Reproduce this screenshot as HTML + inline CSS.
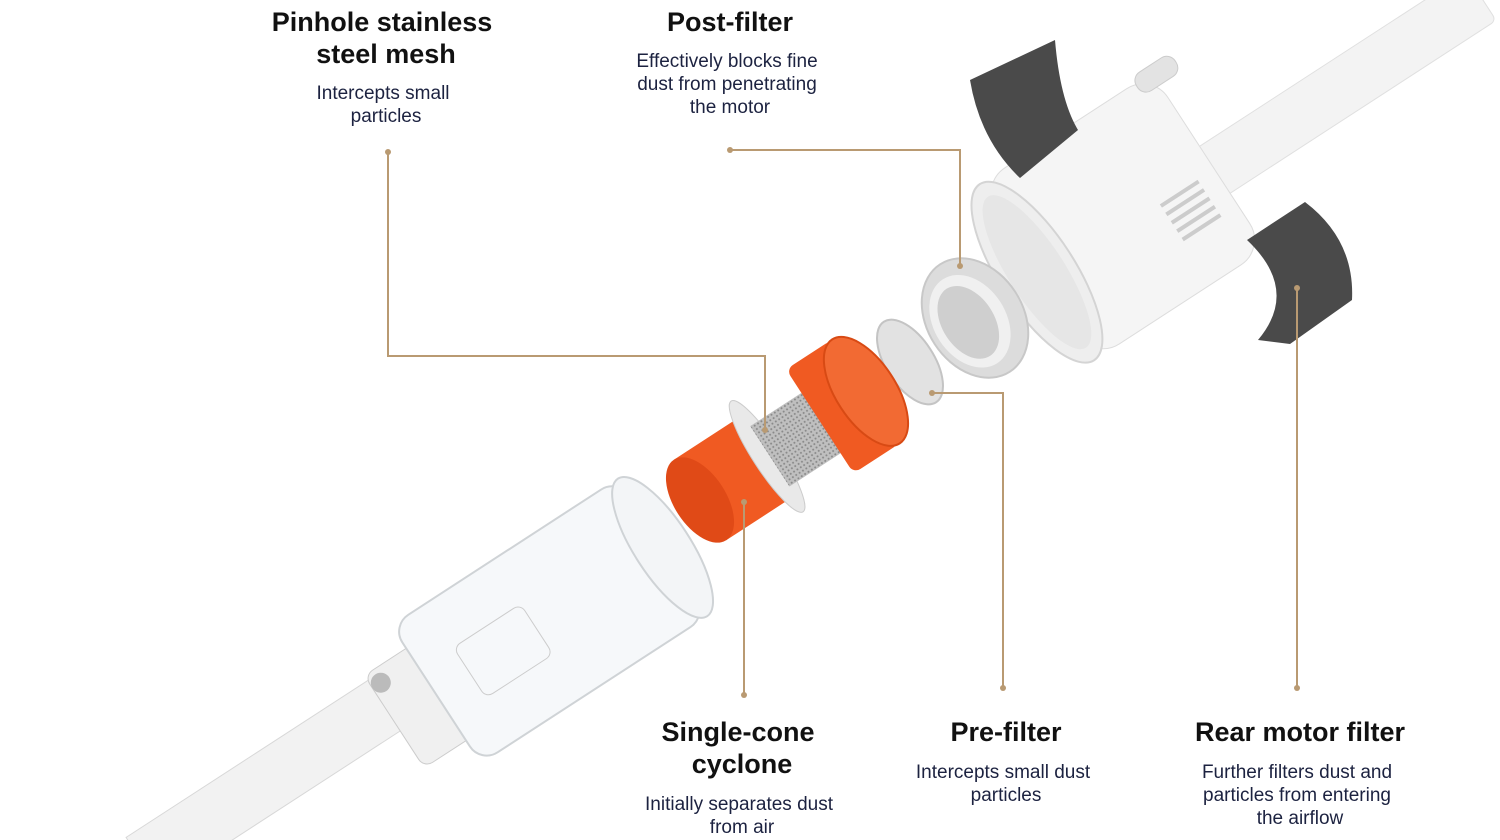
<!DOCTYPE html>
<html><head><meta charset="utf-8"><style>
html,body{margin:0;padding:0;background:#fff;width:1500px;height:840px;overflow:hidden;}
svg{display:block;position:absolute;left:0;top:0}
.t{font-family:"Liberation Sans",sans-serif;font-weight:bold;font-size:27px;fill:#111;text-anchor:middle}
.b{font-family:"Liberation Sans",sans-serif;font-size:19px;fill:#1c2240;text-anchor:middle}
.l{fill:none;stroke:#b99a72;stroke-width:2}
.d{fill:#b99a72}
</style></head><body>
<svg width="1500" height="840" viewBox="0 0 1500 840">
<defs><pattern id="m" width="4" height="4" patternUnits="userSpaceOnUse"><circle cx="2" cy="2" r="1" fill="#888"/></pattern></defs>
<!-- top tube -->
<g transform="translate(1330,95) rotate(-33)">
<rect x="-150" y="-28" width="330" height="56" rx="6" fill="#f3f3f3" stroke="#e0e0e0"/>
</g>
<!-- motor body -->
<g transform="translate(1125,215) rotate(-33)">
<rect x="-105" y="-105" width="205" height="210" rx="30" fill="#f5f5f5" stroke="#ddd"/>
<ellipse cx="-105" cy="0" rx="38" ry="105" fill="#eeeeee" stroke="#d4d4d4" stroke-width="2"/>
<ellipse cx="-105" cy="0" rx="28" ry="90" fill="#e6e6e6"/>
<g fill="#ccc"><rect x="35" y="10" width="45" height="4"/><rect x="35" y="20" width="45" height="4"/><rect x="35" y="30" width="45" height="4"/><rect x="35" y="40" width="45" height="4"/><rect x="35" y="50" width="45" height="4"/></g>
<rect x="80" y="-112" width="46" height="22" rx="10" fill="#e3e3e3" stroke="#ccc"/>
</g>
<!-- foams -->
<path d="M970,80 L1055,40 Q1060,100 1078,130 L1020,178 Q980,140 970,80 Z" fill="#4a4a4a"/>
<path d="M1247,240 L1305,202 Q1355,240 1352,300 L1290,344 L1258,340 Q1300,290 1247,240 Z" fill="#4a4a4a"/>
<!-- post filter -->
<g transform="translate(975,318) rotate(-33)">
<ellipse cx="0" cy="0" rx="48" ry="64" fill="#dcdcdc" stroke="#c8c8c8" stroke-width="2"/>
<ellipse cx="-6" cy="0" rx="36" ry="50" fill="#f0f0f0"/>
<ellipse cx="-8" cy="0" rx="26" ry="40" fill="#cfcfcf"/>
</g>
<!-- pre filter disk -->
<g transform="translate(910,362) rotate(-33)">
<ellipse cx="0" cy="0" rx="24" ry="48" fill="#e2e2e2" stroke="#c4c4c4" stroke-width="2"/>
</g>
<!-- bottom tube -->
<g transform="translate(285,770) rotate(-33)">
<rect x="-170" y="-30" width="300" height="60" fill="#f2f2f2" stroke="#d8d8d8"/>
</g>
<!-- clear bin -->
<g transform="translate(520,640) rotate(-33)">
<rect x="-150" y="-55" width="70" height="110" rx="10" fill="#f0f0f0" stroke="#ccc"/>
<rect x="-100" y="-82" width="270" height="164" rx="20" fill="#f6f8fa" stroke="#cfd3d6" stroke-width="2"/>
<ellipse cx="170" cy="0" rx="28" ry="82" fill="#f3f5f7" stroke="#cfd3d6" stroke-width="2"/>
<rect x="-60" y="-30" width="80" height="60" rx="8" fill="none" stroke="#ccc"/>
<circle cx="-140" cy="-40" r="10" fill="#bbb"/>
</g>
<!-- orange cylinder -->
<g transform="translate(700,500) rotate(-33)">
<rect x="0" y="-48" width="80" height="96" fill="#f05a22"/>
<ellipse cx="80" cy="0" rx="14" ry="66" fill="#e9e9e9" stroke="#ccc"/>
<ellipse cx="0" cy="0" rx="26" ry="48" fill="#e04a17"/>
</g>
<!-- mesh -->
<g transform="translate(795,440) rotate(-33)">
<rect x="-30" y="-36" width="70" height="72" fill="#bfbfbf"/>
<rect x="-30" y="-36" width="70" height="72" fill="url(#m)"/>
</g>
<!-- orange cap -->
<g transform="translate(845,405) rotate(-33)">
<rect x="-30" y="-62" width="55" height="124" rx="8" fill="#f05a22"/>
<ellipse cx="25" cy="0" rx="30" ry="62" fill="#f26a33" stroke="#d84a14" stroke-width="2"/>
</g>
<!-- leader lines -->
<polyline class="l" points="388,152 388,356 765,356 765,430"/><circle class="d" cx="388" cy="152" r="3"/><circle class="d" cx="765" cy="430" r="3"/>
<polyline class="l" points="730,150 960,150 960,266"/><circle class="d" cx="730" cy="150" r="3"/><circle class="d" cx="960" cy="266" r="3"/>
<polyline class="l" points="744,502 744,695"/><circle class="d" cx="744" cy="502" r="3"/><circle class="d" cx="744" cy="695" r="3"/>
<polyline class="l" points="932,393 1003,393 1003,688"/><circle class="d" cx="932" cy="393" r="3"/><circle class="d" cx="1003" cy="688" r="3"/>
<polyline class="l" points="1297,288 1297,688"/><circle class="d" cx="1297" cy="288" r="3"/><circle class="d" cx="1297" cy="688" r="3"/>
<!-- text -->
<text class="t" x="382" y="31">Pinhole stainless</text>
<text class="t" x="386" y="63">steel mesh</text>
<text class="b" x="383" y="99">Intercepts small</text>
<text class="b" x="386" y="122">particles</text>
<text class="t" x="730" y="31">Post-filter</text>
<text class="b" x="727" y="67">Effectively blocks fine</text>
<text class="b" x="727" y="90">dust from penetrating</text>
<text class="b" x="730" y="113">the motor</text>
<text class="t" x="738" y="741">Single-cone</text>
<text class="t" x="742" y="773">cyclone</text>
<text class="b" x="739" y="810">Initially separates dust</text>
<text class="b" x="742" y="833">from air</text>
<text class="t" x="1006" y="741">Pre-filter</text>
<text class="b" x="1003" y="778">Intercepts small dust</text>
<text class="b" x="1006" y="801">particles</text>
<text class="t" x="1300" y="741">Rear motor filter</text>
<text class="b" x="1297" y="778">Further filters dust and</text>
<text class="b" x="1297" y="801">particles from entering</text>
<text class="b" x="1300" y="824">the airflow</text>
</svg>
</body></html>
